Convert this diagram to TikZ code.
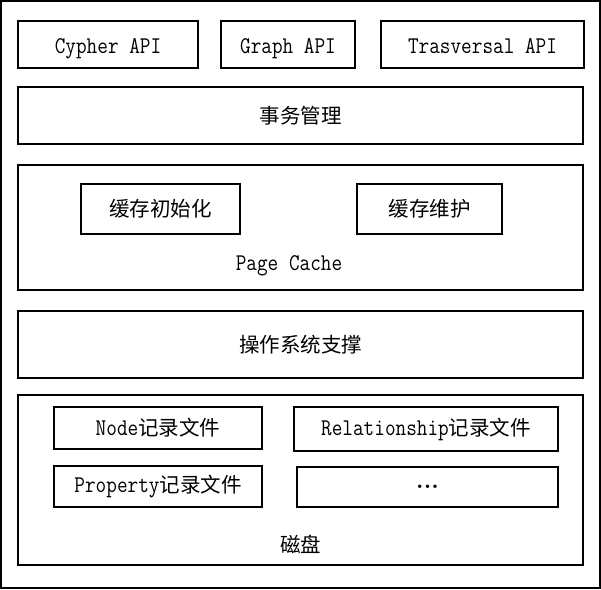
\documentclass[tikz,border=0pt]{standalone}
\usepackage{fontspec}
\setmonofont[FakeStretch=0.86]{Latin Modern Mono}
\newfontfamily\cjk{Noto Sans CJK SC}
\usetikzlibrary{positioning}

\begin{document}
\begin{tikzpicture}[x=1pt, y=-1pt,
    font=\fontsize{24}{28}\selectfont\ttfamily,
    layer/.style={rectangle, draw, line width=1.6pt, minimum width=565, minimum height=#1, inner sep=0pt},
    box/.style={rectangle, draw, line width=1.6pt, inner sep=0pt, align=center},
    api/.style={box, minimum height=47, text height=22, text depth=5},
    cn/.style={font=\fontsize{20.5}{24}\selectfont\cjk}
]
\useasboundingbox (0,0) rectangle (601,589);
\draw[line width=2pt] (1,1) rectangle (600,588);

% API row
\node[api, minimum width=180] (cypher) at (108,44.5) {Cypher API};
\node[api, minimum width=134] (graph) at (288,44.5) {Graph API};
\node[api, minimum width=203] (trav) at (482.5,44.5) {Trasversal API};

% transactions
\node[layer=57, cn] (tx) at (300.5,115.5) {事务管理};

% page cache
\node[layer=125] (cache) at (300.5,227.5) {};
\node[box, minimum width=159, minimum height=50, cn] (init) at (160.5,209) {缓存初始化};
\node[box, minimum width=145, minimum height=50, cn] (maint) at (429.5,209) {缓存维护};
\node (cachelbl) at (289,266) {Page Cache};

% os
\node[layer=67, cn] (os) at (300.5,344.5) {操作系统支撑};

% disk
\node[layer=170] (disk) at (300.5,480) {};
\node[box, minimum width=208, minimum height=42] (nodef) at (158,428) {Node{\fontsize{20.5}{24}\selectfont\cjk 记录文件}};
\node[box, minimum width=264, minimum height=44] (relf) at (426,429) {Relationship{\fontsize{20.5}{24}\selectfont\cjk 记录文件}};
\node[box, minimum width=208, minimum height=41] (propf) at (158,486.5) {Property{\fontsize{20.5}{24}\selectfont\cjk 记录文件}};
\node[box, minimum width=261, minimum height=40] (more) at (427.5,487) {\rmfamily\textbf{...}};
\node[cn] (disklbl) at (300.5,544) {磁盘};
\end{tikzpicture}
\end{document}
